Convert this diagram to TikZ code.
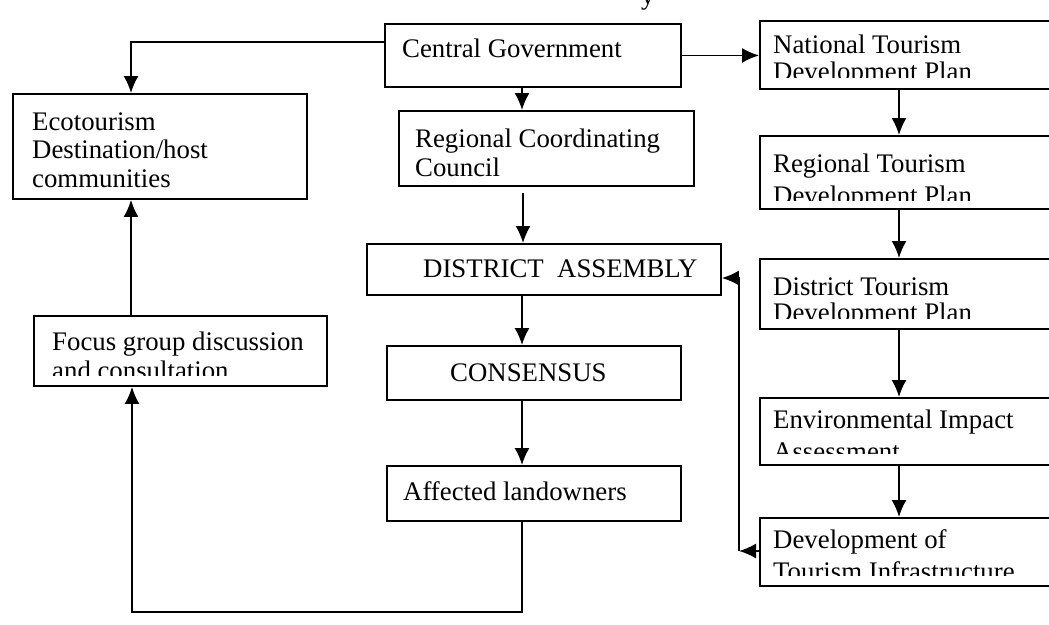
\documentclass[tikz,border=0pt]{standalone}
\usepackage{fontspec}
\setmainfont{Liberation Serif}
\usetikzlibrary{arrows.meta}
\tikzset{
  box/.style={draw, line width=1.9pt, rectangle, inner sep=0pt, anchor=north west},
  txt/.style={anchor=base west, inner sep=0pt, font=\fontsize{26.8}{28.5}\selectfont},
  arr/.style={-{Latex[length=17pt,width=15pt]}, line width=1.7pt},
}
\begin{document}
\begin{tikzpicture}[x=1pt,y=-1pt]
\useasboundingbox (0,0) rectangle (1049,624);
\clip (0,0) rectangle (1049,624);
% fragment of text above
\node[txt] (frag) at (641,4) {y};
% boxes
\node[box, minimum width=294, minimum height=105] (eco) at (12,93) {};
\node[box, minimum width=296, minimum height=63] (cg) at (384,23) {};
\node[box, minimum width=295, minimum height=75] (rcc) at (398,110) {};
\node[box, minimum width=354, minimum height=51] (da) at (366,243) {};
\node[box, minimum width=294, minimum height=54] (cons) at (386,345) {};
\node[box, minimum width=294, minimum height=55] (aff) at (386,465) {};
\node[box, minimum width=293, minimum height=70] (focus) at (33,315) {};
\node[box, minimum width=310, minimum height=68] (nat) at (759,20) {};
\node[box, minimum width=310, minimum height=73] (reg) at (759,135) {};
\node[box, minimum width=310, minimum height=70] (dis) at (759,258) {};
\node[box, minimum width=310, minimum height=67] (eia) at (759,397) {};
\node[box, minimum width=310, minimum height=68] (dev) at (759,517) {};
% texts
\node[txt] (t1) at (32,130) {Ecotourism};
\node[txt] (t2) at (32,158.5) {Destination/host};
\node[txt] (t3) at (32,187) {communities};
\node[txt] (t4) at (402,57) {Central Government};
\node[txt] (t5) at (415,147) {Regional Coordinating};
\node[txt] (t6) at (415,176) {Council};
\node[txt] (t7) at (423,277) {DISTRICT\ \ ASSEMBLY};
\node[txt] (t8) at (450,381) {CONSENSUS};
\node[txt] (t9) at (403,500) {Affected landowners};
\begin{scope}
  \clip (33,315) rectangle (326,375);
  \node[txt] (t10) at (52,350) {Focus group discussion};
  \node[txt] (t11) at (52,379) {and consultation};
\end{scope}
\begin{scope}
  \clip (759,20) rectangle (1049,77);
  \node[txt] (t12) at (773,53) {National Tourism};
  \node[txt] (t13) at (773,80.5) {Development Plan};
\end{scope}
\begin{scope}
  \clip (759,135) rectangle (1049,200);
  \node[txt] (t14) at (773,172) {Regional Tourism};
  \node[txt] (t15) at (773,204) {Development Plan};
\end{scope}
\begin{scope}
  \clip (759,258) rectangle (1049,318);
  \node[txt] (t16) at (773,295) {District Tourism};
  \node[txt] (t17) at (773,321.5) {Development Plan};
\end{scope}
\begin{scope}
  \clip (759,397) rectangle (1049,453);
  \node[txt] (t18) at (773,428) {Environmental Impact};
  \node[txt] (t19) at (773,460) {Assessment};
\end{scope}
\begin{scope}
  \clip (759,517) rectangle (1049,575);
  \node[txt] (t20) at (773,548) {Development of};
  \node[txt] (t21) at (773,580) {Tourism Infrastructure};
\end{scope}
% helper coordinates
\coordinate (l1) at (131,42);
\coordinate (cx) at (522,0);
\coordinate (g1) at (523,193);
\coordinate (rx) at (899,0);
\coordinate (b1) at (522,612);
\coordinate (b2) at (132,612);
\coordinate (f1) at (739,278);
\coordinate (f2) at (739,551);
% connectors
\draw[arr] (cg.west |- l1) -- (l1) -- (eco.north -| l1);
\draw[arr] (cg.east) -- (cg.east -| nat.west);
\draw[arr] (cg.south -| cx) -- (rcc.north -| cx);
\draw[arr] (g1) -- (da.north -| g1);
\draw[arr] (da.south -| cx) -- (cons.north -| cx);
\draw[arr] (cons.south -| cx) -- (aff.north -| cx);
\draw[arr] (aff.south -| b1) -- (b1) -- (b2) -- (focus.south -| b2);
\draw[arr] (focus.north -| l1) -- (eco.south -| l1);
\draw[arr] (nat.south -| rx) -- (reg.north -| rx);
\draw[arr] (reg.south -| rx) -- (dis.north -| rx);
\draw[arr] (dis.south -| rx) -- (eia.north -| rx);
\draw[arr] (eia.south -| rx) -- (dev.north -| rx);
\draw[arr] (dev.west |- f2) -- (f2);
\draw[arr] (f2) -- (f1) -- (da.east |- f1);
\end{tikzpicture}
\end{document}
